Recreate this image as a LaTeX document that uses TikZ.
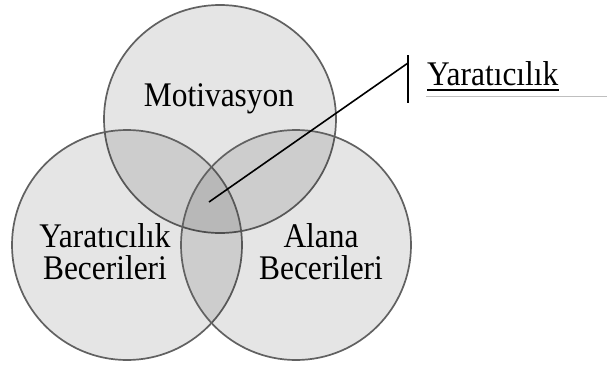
\documentclass[tikz,border=0pt]{standalone}
\usepackage{fontspec}
\usepackage{graphicx}
\setmainfont{Liberation Serif}
\newcommand\stretchtxt[1]{\scalebox{1}[1.1]{#1}}
\begin{document}
\begin{tikzpicture}[x=1pt,y=-1pt,
  venn/.style={draw=black!62, line width=1.7pt, fill=black, fill opacity=0.1, draw opacity=1},
  lbl/.style={font=\fontsize{31.4}{31.4}\selectfont, inner sep=0pt, anchor=base},
  lead/.style={line width=1.6pt, black}]
\useasboundingbox (0,0) rectangle (607,367);
\fill[white] (0,0) rectangle (607,367);
\path[venn] (220,119) ellipse [x radius=116, y radius=114];
\path[venn] (127,245) ellipse [x radius=115, y radius=115];
\path[venn] (296,245) ellipse [x radius=115, y radius=115];
\node[lbl] (mot) at (219,106) {\stretchtxt{Motivasyon}};
\node[lbl] (yb1) at (105,247) {\stretchtxt{Yaratıcılık}};
\node[lbl] (yb2) at (105,279) {\stretchtxt{Becerileri}};
\node[lbl] (ab1) at (321,247) {\stretchtxt{Alana}};
\node[lbl] (ab2) at (321,279) {\stretchtxt{Becerileri}};
\coordinate (tip) at (209,202);
\coordinate (bar) at (408,63);
\coordinate (bartop) at (408,55);
\coordinate (barbot) at (408,103);
\draw[lead] (tip) -- (bar);
\draw[lead] (bartop) -- (barbot);
\node[lbl, anchor=base west] (yt) at (427,85) {\stretchtxt{Yaratıcılık}};
\draw[line width=1.6pt] ([yshift=-5pt]yt.base west) -- ([yshift=-5pt]yt.base east);
\coordinate (gl) at (607,96);
\draw[black!25, line width=1pt] (426,96) -- (gl);
\end{tikzpicture}
\end{document}
